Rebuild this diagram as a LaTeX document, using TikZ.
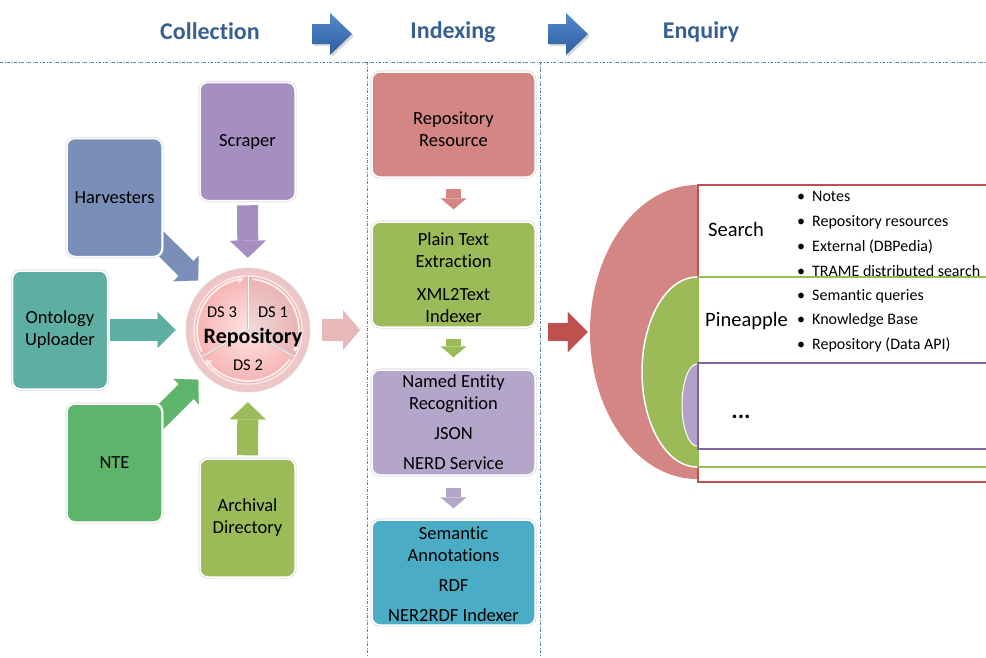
\documentclass[tikz,border=0pt]{standalone}
\usepackage{fontspec}
\setmainfont{Carlito}[Ligatures=NoCommon]
\usetikzlibrary{arrows.meta,shapes.geometric,calc}
\pgfdeclarelayer{bg}
\pgfsetlayers{bg,main}
\definecolor{hdrblue}{RGB}{55,96,146}
\definecolor{dashblue}{RGB}{79,129,189}
\definecolor{hdrA}{RGB}{84,139,206}
\definecolor{hdrB}{RGB}{44,92,156}
\definecolor{cScraper}{RGB}{165,143,192}
\definecolor{cHarv}{RGB}{122,143,184}
\definecolor{cOnto}{RGB}{94,175,163}
\definecolor{cNte}{RGB}{92,181,106}
\definecolor{cArch}{RGB}{155,187,89}
\definecolor{cRR}{RGB}{212,134,132}
\definecolor{cNer}{RGB}{180,166,202}
\definecolor{cSem}{RGB}{75,172,198}
\definecolor{cPink}{RGB}{230,184,183}
\definecolor{cRed}{RGB}{192,80,77}
\definecolor{cPurpB}{RGB}{128,100,162}
\definecolor{cPurpF}{RGB}{179,162,199}
\newcommand\fsz[2]{\fontsize{#1}{#2}\selectfont}
\tikzset{
  fbox/.style={rounded corners=8pt, draw=white, line width=1.5pt,
    preaction={draw=black!12, line width=3.2pt}, align=center, inner sep=0pt,
    text=black, font=\fsz{18.5}{22}},
  leftbox/.style={fbox, minimum width=95pt, minimum height=118pt},
  idxbox/.style={fbox, minimum width=163pt, minimum height=105pt},
  barrow/.style n args={4}{draw=#1, line width=#2,
    -{Triangle[width=#3, length=#4, line width=0.1pt]}},
  hdr/.style={font=\fsz{24}{28}\bfseries, text=hdrblue, anchor=base, inner sep=0pt},
  ddline/.style={draw=dashblue, line width=0.8pt,
    dash pattern=on 3pt off 1.5pt on 1pt off 1.5pt},
  bul/.style={anchor=base west, inner sep=0pt, font=\fsz{16}{19}},
  enqt/.style={anchor=base, inner sep=0pt, font=\fsz{20.5}{24}},
  dsf/.style={inner sep=0pt, font=\fsz{16.5}{19}},
  cyc/.style={draw=white, opacity=0.75, line width=2pt,
    -{Triangle[width=7pt, length=5pt, line width=0.1pt]}},
  enqbox/.style={rectangle, fill=white, line width=1.5pt, minimum width=298pt,
    inner sep=0pt, anchor=west},
  hdrarrow/.pic={
    \fill[black, opacity=0.15] (-18,-8) -- (0,-8) -- (0,-19) -- (22,2) -- (0,23) -- (0,12) -- (-18,12) -- cycle;
    \shade[top color=hdrA, bottom color=hdrB] (-20,-10) -- (-2,-10) -- (-2,-21) -- (20,0) -- (-2,21) -- (-2,10) -- (-20,10) -- cycle;
  }
}
\begin{document}
\begin{tikzpicture}[x=1pt,y=-1pt]
\useasboundingbox (0,0) rectangle (986,657);
\clip (0,0) rectangle (986,657);

% headers
\node[hdr] (coll) at (210,39) {Collection};
\node[hdr] (idx) at (453,38) {Indexing};
\node[hdr] (enq) at (701,38) {Enquiry};
\pic (ha1) at (332,34) {hdrarrow};
\pic (ha2) at (568,34) {hdrarrow};

% separators
\draw[ddline] (0,62) -- (986,62);
\draw[ddline] (367,62) -- (367,657);
\draw[ddline] (540,62) -- (540,657);

% collection boxes
\node[leftbox, fill=cScraper] (scr) at (247.5,141.5) {Scraper};
\node[leftbox, fill=cHarv] (harv) at (114.5,197.5) {Harvesters};
\node[leftbox, fill=cOnto] (onto) at (60,330) {Ontology\\Uploader};
\node[leftbox, fill=cNte] (nte) at (114.5,463) {NTE};
\node[leftbox, fill=cArch] (arch) at (247.5,518) {Archival\\Directory};

% repository circle
\node[circle, minimum size=124pt, inner sep=0pt, draw=black!15, line width=0.6pt,
      inner color={rgb,255:red,250;green,228;blue,228}, outer color={rgb,255:red,238;green,196;blue,196}] (repo) at (248,330) {};
\shade[inner color={rgb,255:red,255;green,228;blue,228}, outer color={rgb,255:red,246;green,178;blue,178}]
  (repo.center) circle[radius=54];
\fill[black!30, opacity=0.18] (repo.center) -- ([shift={(-90:54)}]repo.center) arc[start angle=-90, end angle=30, radius=54] -- cycle;
\draw[white, line width=1.2pt, opacity=0.8] (repo.center) circle[radius=54];
\foreach \a in {-90,30,150}{
  \draw[black!22, line width=2pt] (repo.center) -- ([shift={(\a:54)}]repo.center);
  \draw[white, line width=0.6pt] (repo.center) -- ([shift={(\a:54)}]repo.center);
}
\draw[cyc] ([shift={(155:51)}]repo.center) arc[start angle=155, end angle=265, radius=51];
\draw[cyc] ([shift={(-85:51)}]repo.center) arc[start angle=-85, end angle=25, radius=51];
\draw[cyc] ([shift={(35:51)}]repo.center) arc[start angle=35, end angle=145, radius=51];
\node[dsf] (ds3) at (222,312) {DS 3};
\node[dsf] (ds1) at (273,312) {DS 1};
\node[inner sep=0pt, font=\fsz{22}{26}\bfseries] (repot) at (253,338) {Repository};
\node[dsf] (ds2) at (248,365) {DS 2};

% indexing
\node[idxbox, fill=cRR] (rr) at (453.5,124.5) {\rule{0pt}{23pt}Repository\\Resource};
\node[idxbox, fill=cArch] (pt) at (453.5,274.5) {\rule{0pt}{19pt}Plain Text\\Extraction\\[11pt]XML2Text\\Indexer};
\node[idxbox, fill=cNer] (ner) at (453.5,422.5) {Named Entity\\Recognition\\[8pt]JSON\\[8pt]NERD Service};
\node[idxbox, fill=cSem] (sem) at (453.5,572.5) {\rule{0pt}{17pt}Semantic\\Annotations\\[8pt]RDF\\[8pt]NER2RDF Indexer};
\coordinate (idxin) at (367,330);
\coordinate (idxout) at (541,332);

% enquiry
\node[ellipse, minimum width=214pt, minimum height=294pt, inner sep=0pt, fill=cRR] (redell) at (697,332) {};
\node[enqbox, draw=cRed, minimum height=297pt] (redbox) at (697,333.5) {};
\node[ellipse, minimum width=110pt, minimum height=190pt, inner sep=0pt, fill=cArch, draw=white, line width=1.5pt] (greenell) at (697,372) {};
\node[enqbox, draw=cArch, minimum height=190pt] (greenbox) at (697,372) {};
\node[ellipse, minimum width=30pt, minimum height=82pt, inner sep=0pt, fill=cPurpF, draw=white, line width=1pt] (purpell) at (697,405) {};
\node[enqbox, draw=cPurpB, minimum height=86pt] (purpbox) at (697,406) {};

\node[enqt] (search) at (736,236.5) {Search};
\node[enqt] (pine) at (746.5,326) {Pineapple};
\node[enqt, font=\fsz{24}{26}\bfseries] (dots) at (741,418) {...};
\foreach \t/\y [count=\i] in {Notes/201, {Repository resources}/226, {External (DBPedia)}/251, {TRAME distributed search}/276}
  \node[bul] (sb\i) at (797,\y) {\makebox[15pt][l]{\textbullet}\t};
\foreach \t/\y [count=\i] in {{Semantic queries}/300, {Knowledge Base}/324.5, {Repository (Data API)}/349}
  \node[bul] (pb\i) at (797,\y) {\makebox[15pt][l]{\textbullet}\t};

% connectors (behind)
\begin{pgfonlayer}{bg}
\draw[barrow={cScraper}{21pt}{36pt}{17pt}, shorten <=4pt, shorten >=10pt] (scr) -- (repo);
\draw[barrow={cHarv}{21pt}{36pt}{17pt}, shorten <=-15pt, shorten >=8pt] (harv) -- (repo);
\draw[barrow={cOnto}{22pt}{36pt}{18pt}, shorten <=2pt, shorten >=10pt] (onto) -- (repo);
\draw[barrow={cNte}{21pt}{36pt}{17pt}, shorten <=-15pt, shorten >=8pt] (nte) -- (repo);
\draw[barrow={cArch}{21pt}{36pt}{17pt}, shorten <=3pt, shorten >=10pt] (arch) -- (repo);
\draw[barrow={cPink}{22pt}{40pt}{17pt}, shorten <=12pt, shorten >=7pt] (repo) -- (idxin);
\draw[barrow={cRR}{15pt}{26pt}{11pt}, shorten <=11pt, shorten >=12pt] (rr) -- (pt);
\draw[barrow={cArch}{15pt}{26pt}{11pt}, shorten <=11pt, shorten >=12pt] (pt) -- (ner);
\draw[barrow={cNer}{15pt}{26pt}{11pt}, shorten <=12pt, shorten >=11pt] (ner) -- (sem);
\draw[barrow={cRed}{18pt}{40pt}{20pt}, shorten <=7pt, shorten >=2pt] (idxout) -- (redell);
\end{pgfonlayer}
\end{tikzpicture}
\end{document}
